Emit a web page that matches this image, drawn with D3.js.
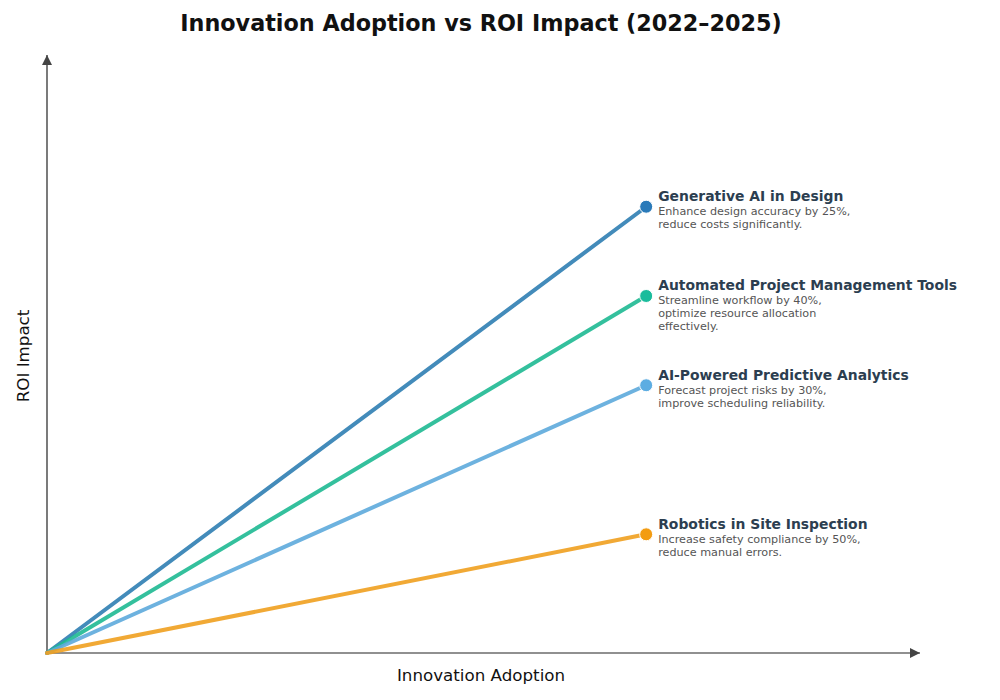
<!DOCTYPE html>
<html>
<head>
<meta charset="utf-8">
<script src="https://cdn.jsdelivr.net/npm/d3@7"></script>
<style>
  body { margin: 0; background: #fff; }
  text { font-family: "DejaVu Sans", sans-serif; }
</style>
</head>
<body>
<div id="chart"></div>
<script>
var svgWidth = 1000;
var svgHeight = 700;

// innovations, each a straight line from the origin
var names = [
  "Generative AI in Design",
  "Automated Project Management Tools",
  "AI-Powered Predictive Analytics",
  "Robotics in Site Inspection"
];
var descriptions = [
  ["Enhance design accuracy by 25%,", "reduce costs significantly."],
  ["Streamline workflow by 40%,", "optimize resource allocation", "effectively."],
  ["Forecast project risks by 30%,", "improve scheduling reliability."],
  ["Increase safety compliance by 50%,", "reduce manual errors."]
];
var adoption = [1, 1, 1, 1];
var roi = [5, 4, 3, 1.33];
var lineColors = ["#2f7fb3", "#1fba93", "#5eaadc", "#f0a020"];
var dotColors = ["#2a7ab9", "#1abc9c", "#5dade2", "#f39c12"];

var origin = { x: 47, y: 653 };

var svg = d3.select("#chart")
  .append("svg")
  .attr("width", svgWidth)
  .attr("height", svgHeight);

var xScale = d3.scaleLinear()
  .domain([0, 1.457])
  .range([origin.x, 920]);

var yScale = d3.scaleLinear()
  .domain([0, 6.7])
  .range([origin.y, 55]);

// arrow markers for the axes
var defs = svg.append("defs");
defs.append("marker")
  .attr("id", "arrow")
  .attr("viewBox", "0 0 10 10")
  .attr("refX", 10)
  .attr("refY", 5)
  .attr("markerWidth", 10)
  .attr("markerHeight", 10)
  .attr("markerUnits", "userSpaceOnUse")
  .attr("orient", "auto")
  .append("path")
  .attr("d", "M0,0 L10,5 L0,10 Z")
  .attr("fill", "#444");

svg.append("text")
  .attr("x", 481)
  .attr("y", 31)
  .attr("text-anchor", "middle")
  .attr("font-size", 22.3)
  .attr("font-weight", "bold")
  .attr("fill", "#111")
  .text("Innovation Adoption vs ROI Impact (2022–2025)");

// axes
svg.append("line")
  .attr("x1", xScale(0))
  .attr("y1", yScale(0))
  .attr("x2", xScale(1.457))
  .attr("y2", yScale(0))
  .attr("stroke", "#222")
  .attr("stroke-width", 1.2)
  .attr("marker-end", "url(#arrow)");

svg.append("line")
  .attr("x1", xScale(0))
  .attr("y1", yScale(0))
  .attr("x2", xScale(0))
  .attr("y2", yScale(6.7))
  .attr("stroke", "#222")
  .attr("stroke-width", 1.2)
  .attr("marker-end", "url(#arrow)");

svg.append("text")
  .attr("x", 481)
  .attr("y", 681)
  .attr("text-anchor", "middle")
  .attr("font-size", 16.7)
  .attr("fill", "#111")
  .text("Innovation Adoption");

svg.append("text")
  .attr("transform", "translate(29, 356) rotate(-90)")
  .attr("text-anchor", "middle")
  .attr("font-size", 16.7)
  .attr("fill", "#111")
  .text("ROI Impact");

var data = names.map(function(n, i) {
  return { name: n, desc: descriptions[i], x: adoption[i], y: roi[i], line: lineColors[i], dot: dotColors[i] };
});

var lineGroup = svg.append("g");
lineGroup.selectAll("line")
  .data(data)
  .enter()
  .append("line")
  .attr("x1", xScale(0))
  .attr("y1", yScale(0))
  .attr("x2", d => xScale(d.x))
  .attr("y2", d => yScale(d.y))
  .attr("stroke", d => d.line)
  .attr("stroke-width", 4)
  .attr("stroke-linecap", "round")
  .attr("opacity", 0.9);

svg.append("g").selectAll("circle")
  .data(data)
  .enter()
  .append("circle")
  .attr("cx", d => xScale(d.x))
  .attr("cy", d => yScale(d.y))
  .attr("r", 6.5)
  .attr("fill", d => d.dot)
  .attr("stroke", "#fff")
  .attr("stroke-width", 1);

var labels = svg.append("g").selectAll("g")
  .data(data)
  .enter()
  .append("g")
  .attr("transform", d => `translate(${xScale(d.x) + 12}, ${yScale(d.y) + 1.5})`);

labels.append("text")
  .attr("y", -7)
  .attr("font-size", 13.9)
  .attr("font-weight", "bold")
  .attr("fill", "#2c3e50")
  .text(d => d.name);

labels.each(function(d) {
  var g = d3.select(this);
  d.desc.forEach(function(line, j) {
    g.append("text")
      .attr("y", 7 + j * 13)
      .attr("font-size", 11.2)
      .attr("fill", "#555")
      .text(line);
  });
});
</script>
</body>
</html>
